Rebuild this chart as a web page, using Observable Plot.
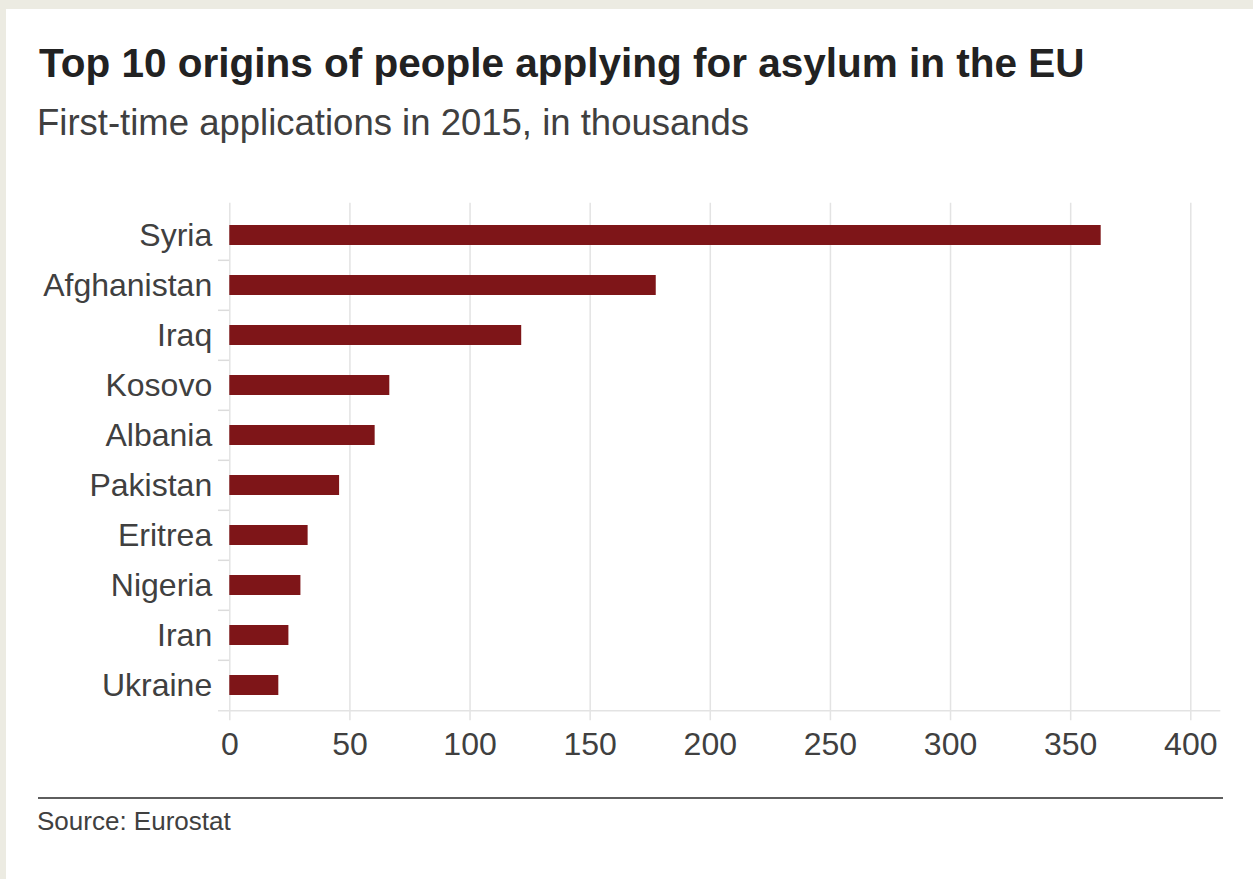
<!DOCTYPE html>
<html>
<head>
<meta charset="utf-8">
<script src="https://cdn.jsdelivr.net/npm/d3@7"></script>
<script src="https://cdn.jsdelivr.net/npm/@observablehq/plot@0.6"></script>
<style>
  html, body { margin: 0; padding: 0; }
  body { width: 1253px; height: 879px; background: #ecebe2; position: relative; overflow: hidden;
         font-family: "Liberation Sans", Arial, Helvetica, sans-serif; }
  #panel { position: absolute; left: 6px; top: 9px; right: 0; bottom: 0; background: #fff; }
  .abs { position: absolute; white-space: nowrap; margin: 0; }
  #title { left: 39px; top: 43px; font-size: 40.5px; line-height: 40px; font-weight: bold; color: #222; }
  #subtitle { left: 37px; top: 105px; font-size: 36.5px; line-height: 36px; color: #404040; }
  #chart { left: 0; top: 190px; }
  #rule { left: 38px; top: 797px; width: 1185px; height: 2px; background: #5e5e5e; }
  #source { left: 37px; top: 808px; font-size: 26px; line-height: 26px; color: #404040; }
</style>
</head>
<body>
<div id="panel"></div>
<div class="abs" id="title">Top 10 origins of people applying for asylum in the EU</div>
<div class="abs" id="subtitle">First-time applications in 2015, in thousands</div>
<div class="abs" id="chart"></div>
<div class="abs" id="rule"></div>
<div class="abs" id="source">Source: Eurostat</div>
<script>
const countries = ["Syria", "Afghanistan", "Iraq", "Kosovo", "Albania", "Pakistan", "Eritrea", "Nigeria", "Iran", "Ukraine"];
const values = [362.7, 177.5, 121.5, 66.6, 60.5, 45.7, 32.6, 29.6, 24.6, 20.4];
const xTicks = [0, 50, 100, 150, 200, 250, 300, 350, 400];

const data = countries.map((c, i) => ({country: c, value: values[i]}));

const H = 580, frameTop = 17.8, frameBottom = 521.2;
const step = (frameBottom - frameTop) / countries.length;

const chart = Plot.plot({
  width: 1253,
  height: H,
  marginLeft: 229.3,
  marginRight: 62.7,
  marginTop: frameTop,
  marginBottom: H - frameBottom,
  style: {fontFamily: "'Liberation Sans', Arial, Helvetica, sans-serif", fontSize: "32px", color: "#404040", background: "transparent", overflow: "visible"},
  x: {domain: [0, 400], label: null},
  y: {domain: countries, paddingInner: 0.6, paddingOuter: 0.3, label: null},
  marks: [
    Plot.ruleX(xTicks, {x: d => d, stroke: "#e3e3e3", strokeWidth: 1.5, insetTop: -5, insetBottom: -9}),
    Plot.ruleY([countries[countries.length - 1]], {y: d => d, dy: step / 2, x1: -4.7, x2: 412.5, stroke: "#e3e3e3", strokeWidth: 1.5}),
    Plot.ruleY(countries.slice(1), {y: d => d, dy: -step / 2, x1: -4.7, x2: 0, stroke: "#dcdcdc", strokeWidth: 1.5}),
    Plot.barX(data, {x: "value", y: "country", fill: "#7e1518"}),
    Plot.axisY({tickSize: 0, tickPadding: 17.6, fontSize: 32, label: null}),
    Plot.axisX({ticks: xTicks, tickSize: 0, tickPadding: 21, fontSize: 32, label: null})
  ]
});
document.getElementById("chart").appendChild(chart);
</script>
</body>
</html>
